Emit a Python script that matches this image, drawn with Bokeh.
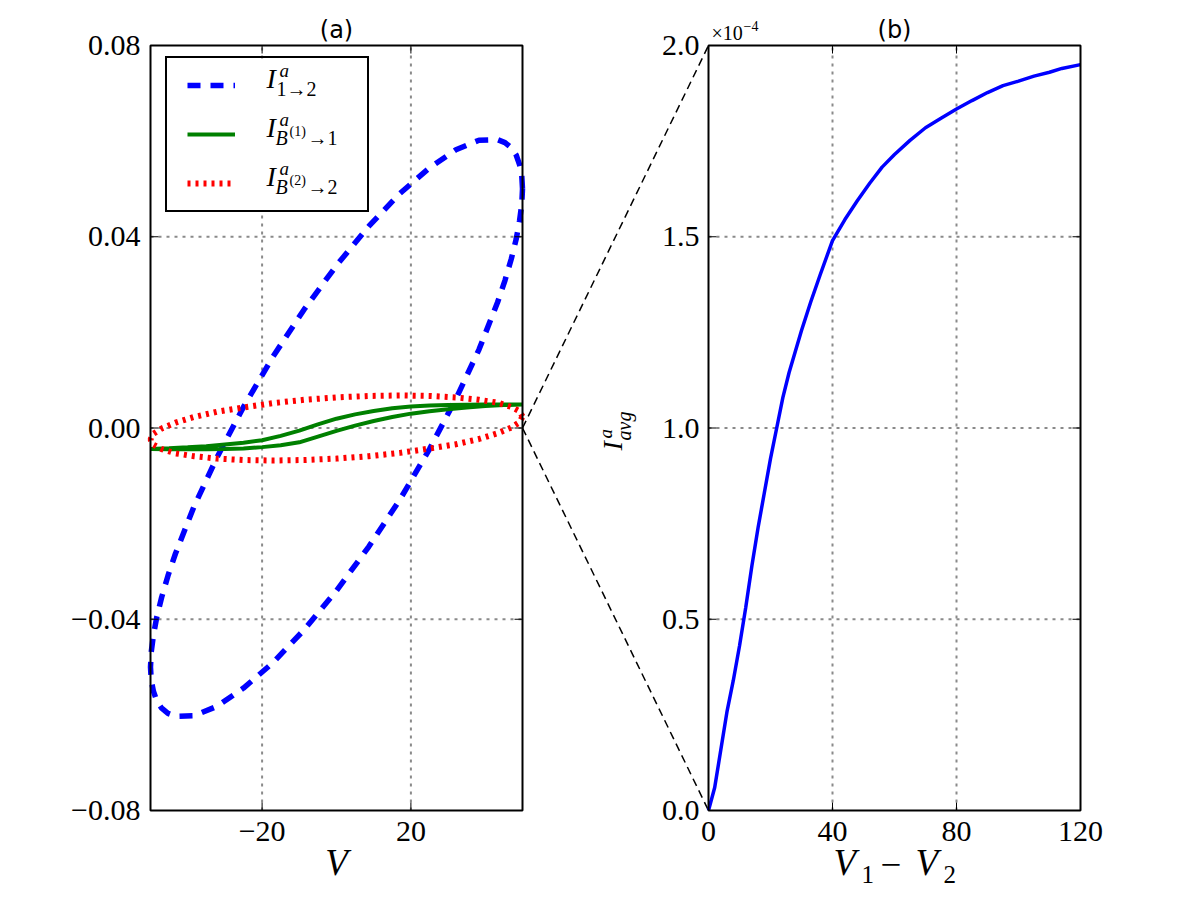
import math
from bokeh.plotting import figure
from bokeh.models import (Range1d, Label, LabelSet, ColumnDataSource, Legend, LegendItem)
from bokeh.core.properties import value
from bokeh.embed import file_html
from bokeh.resources import INLINE

# ---------------- data: panel (a) ----------------
blue_v = [50.0, 49.8, 49.2, 48.3, 47.0, 45.3, 43.3, 38.3, 32.1, 25.0, 17.1, 8.7, 0.0,
          -8.7, -17.1, -25.0, -32.1, -38.3, -43.3, -45.3, -47.0, -48.3, -49.2, -49.8, -50.0,
          -49.8, -49.2, -48.3, -47.0, -45.3, -43.3, -38.3, -32.1, -25.0, -17.1, -8.7, 0.0,
          8.7, 17.1, 25.0, 32.1, 38.3, 43.3, 45.3, 47.0, 48.3, 49.2, 49.8, 50.0]
blue_i = [0.0500, 0.0528, 0.0551, 0.0571, 0.0586, 0.0597, 0.0603, 0.0602, 0.0582, 0.0544,
          0.0491, 0.0422, 0.0340, 0.0248, 0.0149, 0.0044, -0.0061, -0.0164, -0.0263,
          -0.0309, -0.0354, -0.0395, -0.0433, -0.0468, -0.0500,
          -0.0528, -0.0551, -0.0571, -0.0586, -0.0597, -0.0603, -0.0602, -0.0582, -0.0544,
          -0.0491, -0.0422, -0.0340, -0.0248, -0.0149, -0.0044, 0.0061, 0.0164, 0.0263,
          0.0309, 0.0354, 0.0395, 0.0433, 0.0468, 0.0500]

green_v = [-50, -45, -40, -35, -30, -25, -20, -15, -10, -5, 0, 5, 10, 15, 20, 25, 30, 35, 40, 45, 50]
green_upper = [-4.4, -4.25, -4.05, -3.8, -3.45, -3.1, -2.55, -1.65, -0.55, 0.75, 1.95,
               2.85, 3.55, 4.15, 4.5, 4.7, 4.8, 4.85, 4.9, 4.9, 4.9]          # x 1e-3
green_lower = [-4.4, -4.45, -4.45, -4.45, -4.4, -4.3, -4.0, -3.6, -3.0, -1.8, -0.6,
               0.5, 1.45, 2.3, 3.0, 3.5, 3.9, 4.3, 4.6, 4.8, 4.9]             # x 1e-3

red_v = [50.0, 49.2, 47.0, 43.3, 38.3, 32.1, 25.0, 17.1, 8.7, 0.0, -8.7, -17.1, -25.0,
         -32.1, -38.3, -43.3, -47.0, -49.2, -50.0, -49.2, -47.0, -43.3, -38.3, -32.1,
         -25.0, -17.1, -8.7, 0.0, 8.7, 17.1, 25.0, 32.1, 38.3, 43.3, 47.0, 49.2, 50.0]
red_i = [0.0024, 0.0035, 0.0044, 0.0053, 0.0059, 0.0064, 0.0067, 0.0068, 0.0067, 0.0064,
         0.0059, 0.0052, 0.0043, 0.0034, 0.0023, 0.0011, -0.0001, -0.0012, -0.0024,
         -0.0035, -0.0044, -0.0053, -0.0059, -0.0064, -0.0067, -0.0068, -0.0067, -0.0064,
         -0.0059, -0.0052, -0.0043, -0.0034, -0.0023, -0.0011, 0.0001, 0.0012, 0.0024]

a_xticks = [-20, 20]
a_xtick_labels = ["\u221220", "20"]
a_yticks = [-0.08, -0.04, 0.0, 0.04, 0.08]
a_ytick_labels = ["\u22120.08", "\u22120.04", "0.00", "0.04", "0.08"]

# ---------------- data: panel (b) ----------------
vdiff = [0, 2, 4, 6, 8, 10, 12, 14, 16, 18, 20, 22, 24, 26, 28, 30, 33, 36, 40, 44, 48,
         52, 56, 60, 65, 70, 75, 80, 85, 90, 95, 100, 105, 110, 114, 120]
iavg = [0.0, 0.06, 0.16, 0.26, 0.34, 0.43, 0.53, 0.64, 0.74, 0.83, 0.92, 1.0, 1.08, 1.145,
        1.2, 1.255, 1.33, 1.4, 1.49, 1.545, 1.594, 1.64, 1.682, 1.715, 1.752, 1.785, 1.81,
        1.834, 1.856, 1.877, 1.895, 1.907, 1.92, 1.93, 1.94, 1.95]   # x 1e-4

b_xticks = [0, 40, 80, 120]
b_xtick_labels = ["0", "40", "80", "120"]
b_yticks = [0.0, 0.5, 1.0, 1.5, 2.0]
b_ytick_labels = ["0.0", "0.5", "1.0", "1.5", "2.0"]

# ---------------- layout (pixels) ----------------
W, H = 1200, 900
PT, PB = 45, 810            # top / bottom of both panels
PA_L, PA_R = 150, 522       # panel (a) left / right
PB_L, PB_R = 708, 1080      # panel (b) left / right
LEG_L, LEG_T, LEG_W, LEG_H = 165, 60, 200, 152
A_X, A_Y = (-50, 50), (-0.08, 0.08)
B_X, B_Y = (0, 120), (0.0, 2.0)
SERIF = "Liberation Serif"
SANS = "DejaVu Sans"
GRID = "#8a8a8a"
TICK_FS = "30px"


def lin(lo, hi, p0, p1):
    return lambda px: lo + (px - p0) * (hi - lo) / (p1 - p0)


ax_ = lin(A_X[0], A_X[1], PA_L, PA_R)
ay_ = lin(A_Y[0], A_Y[1], PB, PT)
bx_ = lin(B_X[0], B_X[1], PB_L, PB_R)
by_ = lin(B_Y[0], B_Y[1], PB, PT)

p = figure(frame_width=W, frame_height=H, min_border=0,
           x_range=Range1d(ax_(0), ax_(W)), y_range=Range1d(ay_(H), ay_(0)),
           x_axis_location=None, y_axis_location=None,
           output_backend="svg", toolbar_location=None)
p.extra_x_ranges = {"b": Range1d(bx_(0), bx_(W))}
p.extra_y_ranges = {"b": Range1d(by_(H), by_(0))}
p.outline_line_color = None
p.grid.visible = False
p.background_fill_color = "white"
p.border_fill_color = "white"
B = dict(x_range_name="b", y_range_name="b")

# ---- grid lines ----
gkw = dict(line_color=GRID, line_width=2, line_dash="3 5")
p.segment(x0=[A_X[0]] * 3, x1=[A_X[1]] * 3, y0=a_yticks[1:4], y1=a_yticks[1:4], **gkw)
p.segment(x0=a_xticks, x1=a_xticks, y0=[A_Y[0]] * 2, y1=[A_Y[1]] * 2, **gkw)
p.segment(x0=[B_X[0]] * 3, x1=[B_X[1]] * 3, y0=b_yticks[1:4], y1=b_yticks[1:4], **gkw, **B)
p.segment(x0=b_xticks[1:3], x1=b_xticks[1:3], y0=[B_Y[0]] * 2, y1=[B_Y[1]] * 2, **gkw, **B)

# ---- connecting dashed lines: right edge of (a) to corners of (b) ----
c_x = ax_(PB_L)
p.segment(x0=[A_X[1], A_X[1]], y0=[0, 0], x1=[c_x, c_x], y1=[A_Y[1], A_Y[0]],
          line_color="black", line_width=1.5, line_dash="8 5")

# ---- curves panel (a) ----
r_blue = p.line(blue_v, blue_i, line_color="#0000ff", line_width=5.5, line_dash="13 10")
g_v = green_v + green_v[::-1]
g_i = [g * 1e-3 for g in green_upper] + [g * 1e-3 for g in green_lower[::-1]]
r_green = p.line(g_v, g_i, line_color="#008000", line_width=4)
r_red = p.line(red_v, red_i, line_color="#ff0000", line_width=6, line_dash="3 5")

# ---- curve panel (b) ----
p.line(vdiff, iavg, line_color="#0000ff", line_width=3.5, **B)

# ---- panel boxes (spines) ----
p.quad(left=[A_X[0]], right=[A_X[1]], bottom=[A_Y[0]], top=[A_Y[1]],
       fill_color=None, line_color="black", line_width=2)
p.quad(left=[B_X[0]], right=[B_X[1]], bottom=[B_Y[0]], top=[B_Y[1]],
       fill_color=None, line_color="black", line_width=2, **B)

# ---- inward tick marks on all four sides ----
tk = dict(length=8, length_units="screen", line_color="black", line_width=1)
p.ray(x=[A_X[0]] * 5, y=a_yticks, angle=0, **tk)
p.ray(x=[A_X[1]] * 5, y=a_yticks, angle=math.pi, **tk)
p.ray(x=a_xticks, y=[A_Y[0]] * 2, angle=math.pi / 2, **tk)
p.ray(x=a_xticks, y=[A_Y[1]] * 2, angle=-math.pi / 2, **tk)
p.ray(x=[B_X[0]] * 5, y=b_yticks, angle=0, **tk, **B)
p.ray(x=[B_X[1]] * 5, y=b_yticks, angle=math.pi, **tk, **B)
p.ray(x=b_xticks, y=[B_Y[0]] * 4, angle=math.pi / 2, **tk, **B)
p.ray(x=b_xticks, y=[B_Y[1]] * 4, angle=-math.pi / 2, **tk, **B)

# ---- white legend background (legend itself transparent so its texts show) ----
p.quad(left=[ax_(LEG_L)], right=[ax_(LEG_L + LEG_W)], top=[ay_(LEG_T)], bottom=[ay_(LEG_T + LEG_H)],
       fill_color="white", line_color=None)

# ---- tick labels ----
lab = dict(text_font=value(SERIF), text_font_size=value(TICK_FS), text_color="black",
           text_baseline="middle")
p.add_layout(LabelSet(source=ColumnDataSource(dict(x=[A_X[0]] * 5, y=a_yticks, t=a_ytick_labels)),
                      x="x", y="y", text="t", x_offset=-10, text_align="right", **lab))
p.add_layout(LabelSet(source=ColumnDataSource(dict(x=a_xticks, y=[A_Y[0]] * 2, t=a_xtick_labels)),
                      x="x", y="y", text="t", y_offset=-21, text_align="center", **lab))
p.add_layout(LabelSet(source=ColumnDataSource(dict(x=[B_X[0]] * 5, y=b_yticks, t=b_ytick_labels)),
                      x="x", y="y", text="t", x_offset=-9, text_align="right", **lab, **B))
p.add_layout(LabelSet(source=ColumnDataSource(dict(x=b_xticks, y=[B_Y[0]] * 4, t=b_xtick_labels)),
                      x="x", y="y", text="t", y_offset=-21, text_align="center", **lab, **B))

# ---- legend ----
legend = Legend(items=[LegendItem(label=value(" "), renderers=[r_blue]),
                       LegendItem(label=value(" "), renderers=[r_green]),
                       LegendItem(label=value(" "), renderers=[r_red])],
                location=(LEG_L, H - LEG_T - LEG_H), margin=0, padding=20, spacing=35,
                glyph_width=48, glyph_height=14, label_width=112, label_height=14,
                label_standoff=0, label_text_font_size="10px",
                border_line_color="black", border_line_width=2, border_line_alpha=1.0,
                background_fill_alpha=0.0)
p.add_layout(legend)


def txt(px, py, text, size, style="normal", font=SERIF, align="left", rotated=False):
    """(px, py): pixel position of the text's baseline start."""
    if rotated:
        cx, cy, ang = px - 0.35 * size, py, math.pi / 2
    else:
        cx, cy, ang = px, py - 0.35 * size, 0.0
    p.add_layout(Label(x=ax_(cx), y=ay_(cy), text=text, level="overlay",
                       text_font=font, text_font_size=f"{size}px", text_font_style=style,
                       text_align=align, text_baseline="middle", angle=ang,
                       text_color="black"))


for k, (sub_main, sub_sup, sub_end) in enumerate([("1\u21922", None, None),
                                                   ("B", "(1)", "\u21921"),
                                                   ("B", "(2)", "\u21922")]):
    dy = 49 * k
    txt(266, 88 + dy, "I", 28, "italic")
    txt(279, 77 + dy, "a", 19, "italic")
    if sub_sup is None:
        txt(276, 95 + dy, sub_main, 20)
    else:
        txt(275, 95 + dy, sub_main, 20, "italic")
        txt(289, 87 + dy, sub_sup, 14)
        txt(307, 95 + dy, sub_end, 20)

# titles
txt((PA_L + PA_R) / 2, 38, "(a)", 24, font=SANS, align="center")
txt((PB_L + PB_R) / 2, 38, "(b)", 24, font=SANS, align="center")

# offset text of (b)
txt(711, 39, "\u00d710", 20)
txt(743, 30, "\u22124", 14)

# axis labels
txt((PA_L + PA_R) / 2, 875, "V", 37, "italic", align="center")
txt(833, 875, "V", 37, "italic")
txt(861, 883, "1", 25)
txt(880, 877, "\u2212", 37)
txt(915, 875, "V", 37, "italic")
txt(943, 883, "2", 25)

# rotated y label of (b)
txt(622, 450, "I", 28, "italic", rotated=True)
txt(612, 438, "a", 19, "italic", rotated=True)
txt(630, 440, "avg", 20, "italic", rotated=True)

open("out.html", "w").write(file_html(p, INLINE))
